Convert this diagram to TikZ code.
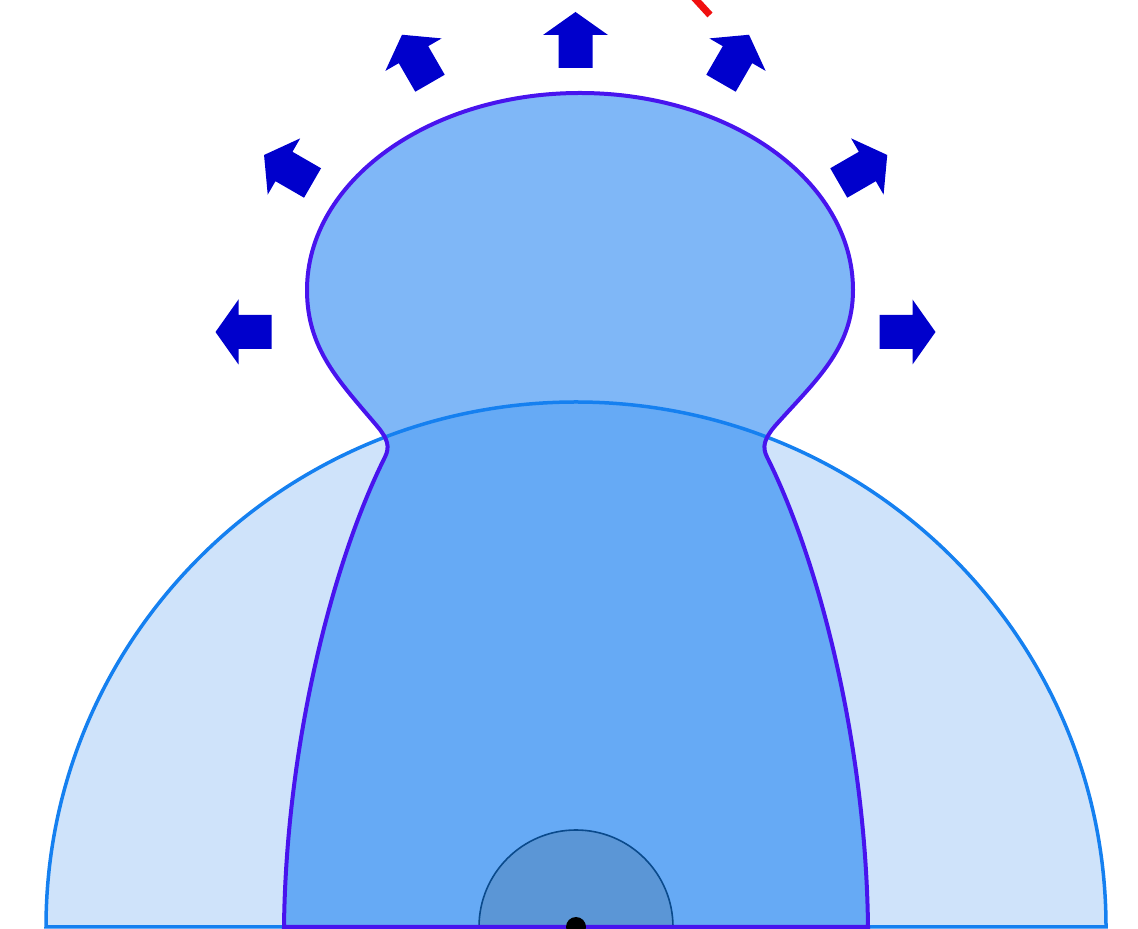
\documentclass[tikz,border=0pt]{standalone}
\definecolor{semifill}{HTML}{CFE3FA}
\definecolor{semiline}{HTML}{1580F0}
\definecolor{headfill}{HTML}{7FB7F7}
\definecolor{bodyfill}{HTML}{66AAF5}
\definecolor{bodyline}{HTML}{4814EE}
\definecolor{corefill}{HTML}{5B96D6}
\definecolor{coreline}{HTML}{0A4A8C}
\definecolor{arrowblue}{HTML}{0000CC}
\definecolor{redline}{HTML}{F01010}
\tikzset{
  semiarc/.style={draw=semiline,line width=3.5pt},
  bodyout/.style={draw=bodyline,line width=4pt},
  corestyle/.style={draw=coreline,line width=1.6pt,fill=corefill},
  blockarrowstyle/.style={fill=arrowblue},
}
\newcommand\myblockarrow[3]{%
  \fill[blockarrowstyle,shift={(#1,#2)},rotate=#3]
    (-28,-17) -- (5,-17) -- (5,-32.5) -- (28,0) -- (5,32.5) -- (5,17) -- (-28,17) -- cycle;}
\def\bodypath{(868,2) .. controls (866,180) and (821,364) .. (767,472)
  .. controls (762,482) and (764,490) .. (775,503)
  .. controls (815,548) and (853,580) .. (853,639)
  arc[start angle=0,end angle=180,x radius=273,y radius=197]
  .. controls (307,580) and (339,548) .. (377,503)
  .. controls (388,490) and (390,482) .. (385,472)
  .. controls (331,364) and (286,180) .. (284,2) -- cycle}
\def\semipath{(1106,2) arc[start angle=0,end angle=180,x radius=530,y radius=525] -- cycle}
\begin{document}
\begin{tikzpicture}[x=1pt,y=1pt]
\useasboundingbox (0,0) rectangle (1138,929);
\clip (0,0) rectangle (1138,929);
% large semicircle fill
\fill[semifill] \semipath;
% body fill
\fill[headfill] \bodypath;
\begin{scope}
  \clip \semipath;
  \fill[bodyfill] \bodypath;
\end{scope}
% core semicircle
\draw[corestyle] (673,2) arc[start angle=0,end angle=180,radius=97] -- cycle;
% outlines
\draw[semiarc] \semipath;
\draw[bodyout] \bodypath;
% centre dot
\fill[black] (576,2) circle[radius=10];
% arrows
\myblockarrow{243.5}{597}{180}
\myblockarrow{288.3}{760}{150}
\myblockarrow{416}{870}{120}
\myblockarrow{575.5}{889}{90}
\myblockarrow{735}{870}{60}
\myblockarrow{863}{760}{30}
\myblockarrow{907.5}{597}{0}
% red stroke at top
\coordinate (r1) at (688,938);
\coordinate (r2) at (710,914);
\draw[redline,line width=7pt] (r1) -- (r2);
\end{tikzpicture}
\end{document}
